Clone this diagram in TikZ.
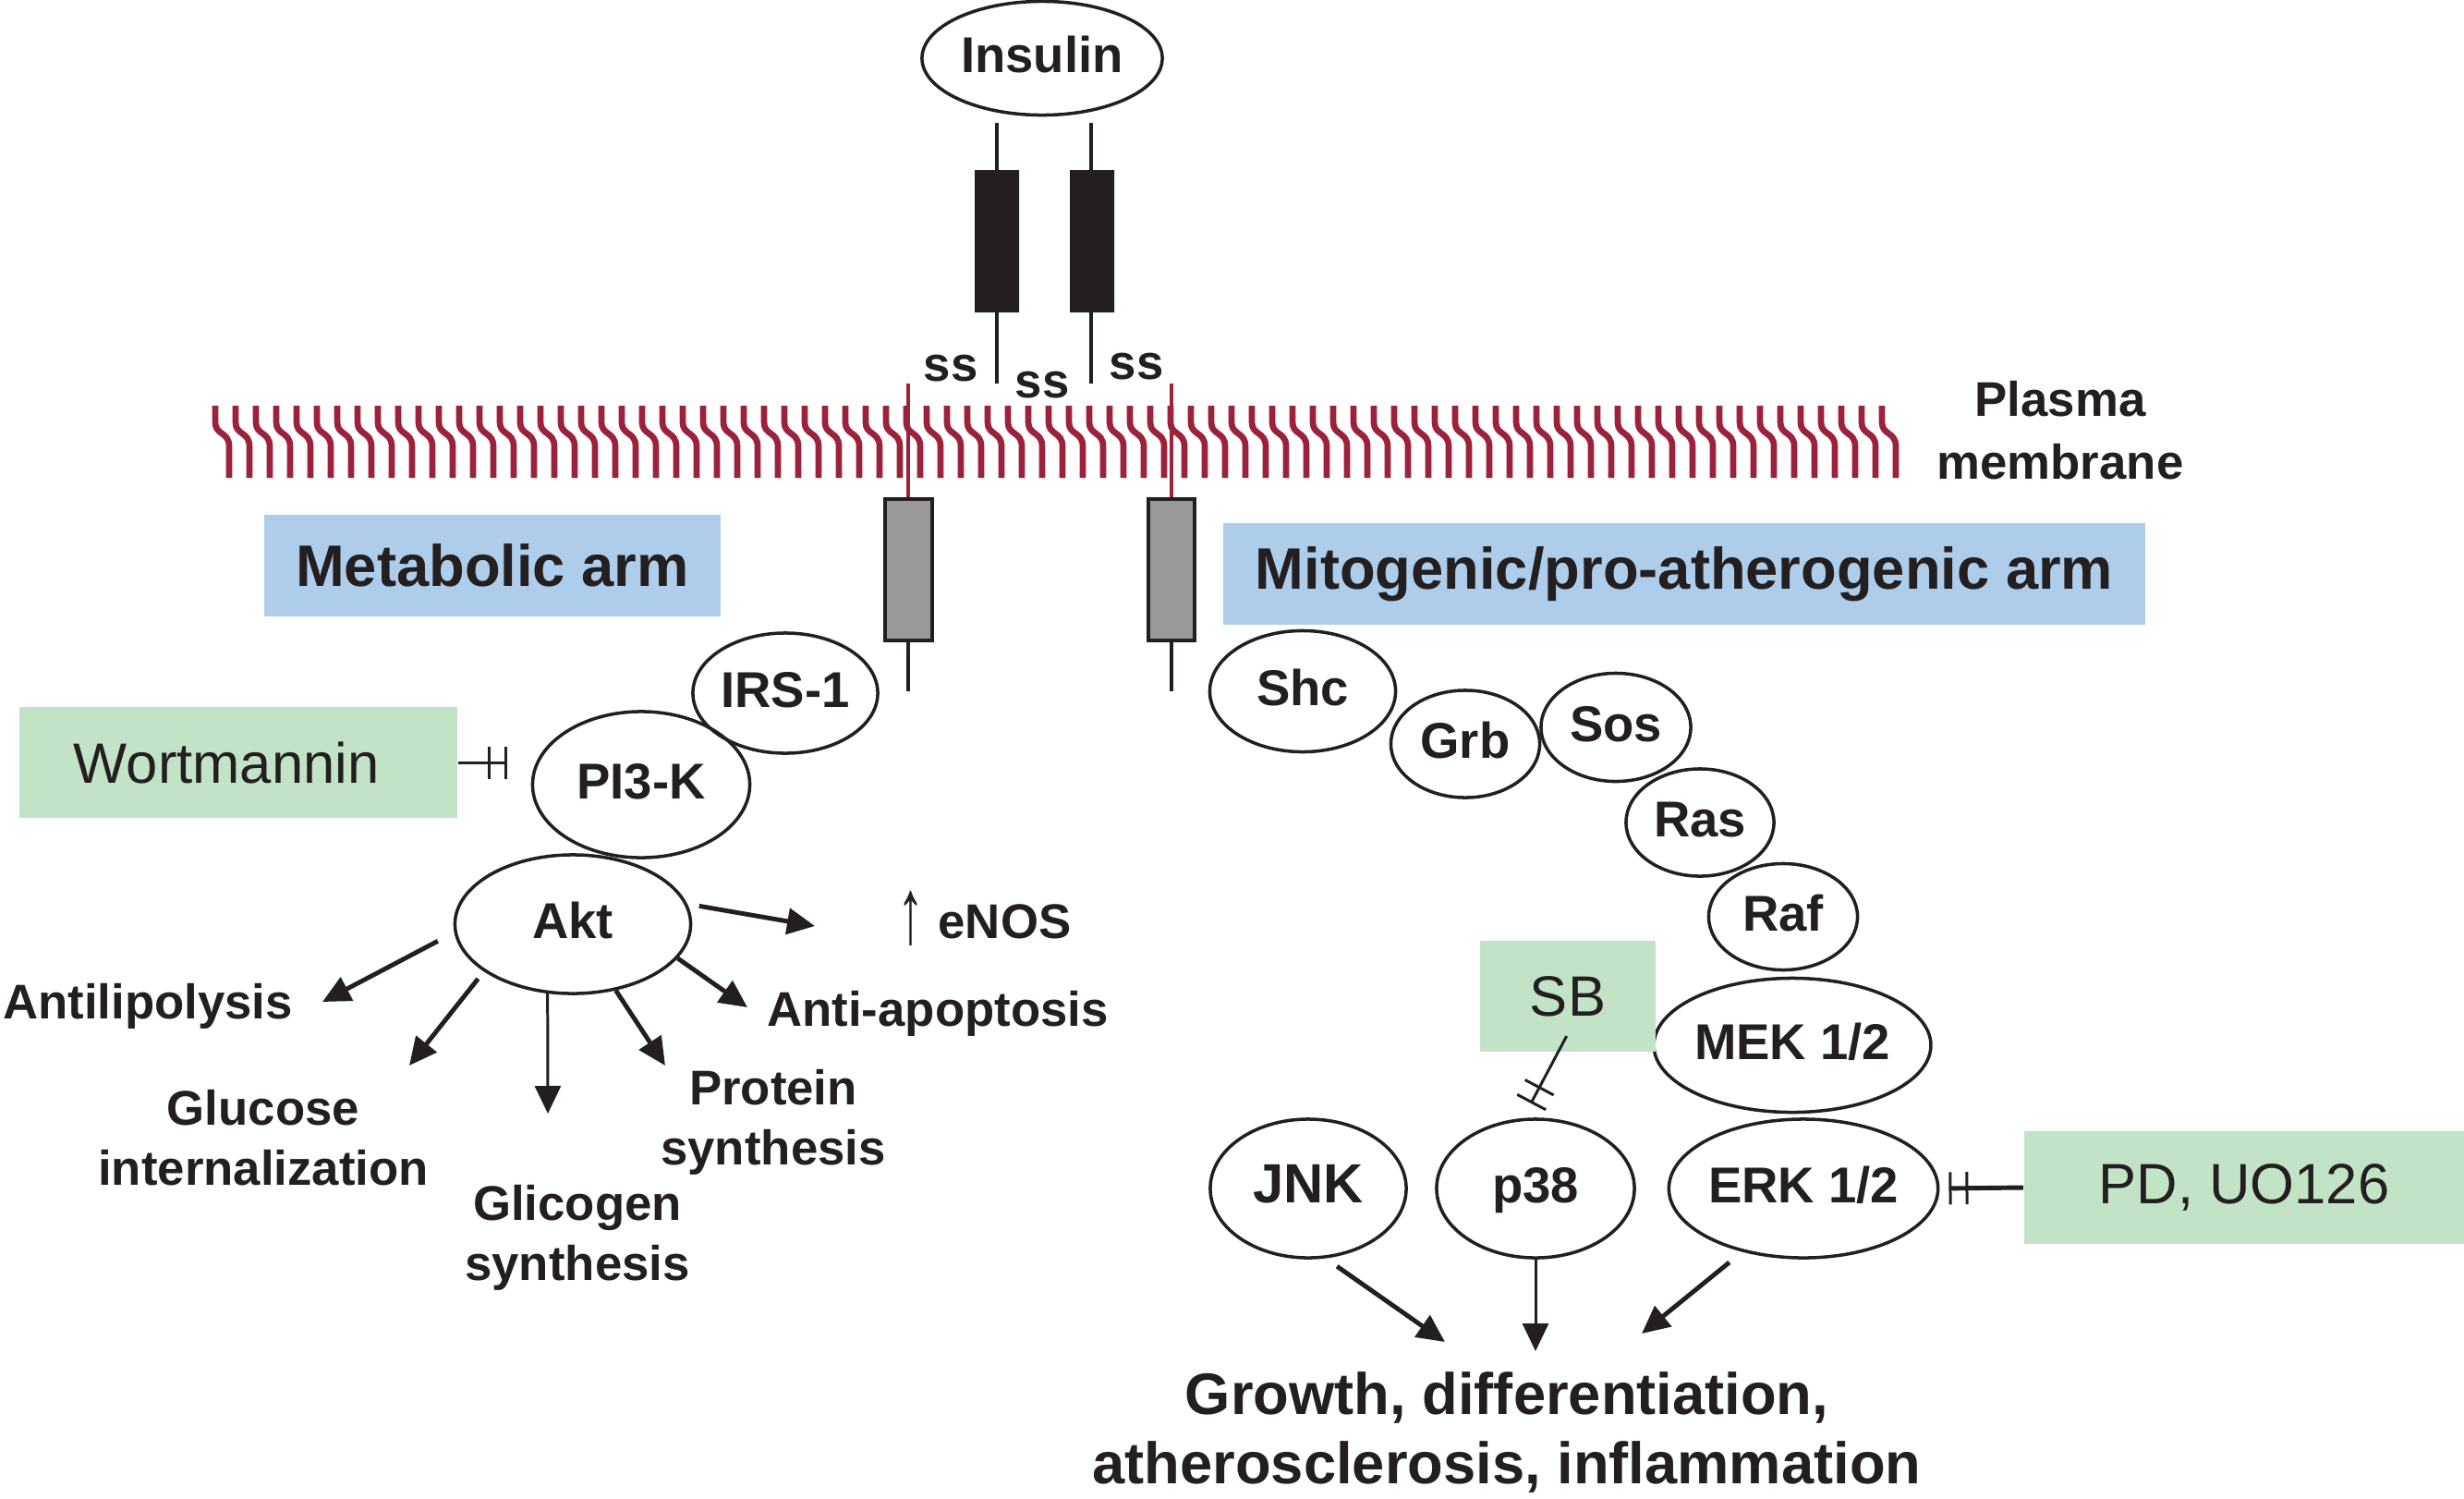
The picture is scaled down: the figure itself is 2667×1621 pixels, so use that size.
\documentclass[tikz,border=0pt]{standalone}
\usepackage{graphicx}
\usepackage{fontspec}
\setmainfont{Liberation Sans}
\usetikzlibrary{positioning,shapes.geometric,arrows.meta}
\definecolor{lipid}{RGB}{155,34,58}
\definecolor{armblue}{RGB}{174,205,235}
\definecolor{druggreen}{RGB}{195,227,198}
\definecolor{ink}{RGB}{35,31,32}
\tikzset{
  prot/.style={ellipse,draw=ink,line width=1pt,inner sep=0pt,text height=0.86em,text depth=0pt,
    font=\fontsize{15.5pt}{18pt}\selectfont\bfseries},
  armbox/.style={fill=armblue,inner sep=0pt,font=\fontsize{18pt}{21pt}\selectfont\bfseries},
  drugbox/.style={fill=druggreen,inner sep=0pt,font=\fontsize{17.5pt}{21pt}\selectfont},
  lbl/.style={align=center,inner sep=0pt,font=\fontsize{15pt}{18.3pt}\selectfont\bfseries},
  arr/.style={draw=ink,line width=1.4pt,-{Triangle[length=0.3cm,width=0.28cm]}},
  thinarr/.style={arr,line width=0.85pt},
  inhib/.style={draw=ink,line width=0.85pt,
    -{Bar[width=0.35cm,line width=0.85pt,sep=0.15cm]Bar[width=0.35cm,line width=0.85pt]}},
}
\begin{document}
\begin{tikzpicture}[x=0.01cm,y=-0.01cm,color=ink]
\useasboundingbox (0,0) rectangle (2667,1621);

% receptor outside the cell
\node[prot,minimum width=2.6cm,minimum height=1.23cm] (insulin) at (1128,63) {Insulin};
\draw[line width=1.1pt] (1079,133) -- (1079,415) (1181,133) -- (1181,415);
\fill (1055,184) rectangle (1103,338) (1158,184) rectangle (1206,338);
\node[lbl,anchor=base] (ssl) at (1029,412) {ss};
\node[lbl,anchor=base] (ssm) at (1128,430) {ss};
\node[lbl,anchor=base] (ssr) at (1230,410) {ss};

% plasma membrane
\foreach \i in {0,...,82} {
    \pgfmathsetmacro{\lx}{233+22*\i}
    \draw[lipid,line width=1.9pt] (\lx,439) -- (\lx,457) .. controls (\lx,471) and (\lx+15,467) .. (\lx+15,483) -- (\lx+15,517);
}
\node[lbl,anchor=base,font=\fontsize{15pt}{19.3pt}\selectfont\bfseries] (plasma) at (2230,518) {Plasma\\membrane};

% receptor inside the cell
\draw[lipid,line width=1.2pt] (983,415) -- (983,540) (1268,415) -- (1268,540);
\draw[line width=0.9pt,fill=black!40] (958,540) rectangle (1009,693) (1243,540) rectangle (1293,693);
\draw[line width=0.9pt] (983,693) -- (983,748) (1268,693) -- (1268,748);

\node[armbox,minimum width=4.94cm,minimum height=1.09cm] (metarm) at (533,612) {Metabolic arm};
\node[armbox,minimum width=9.97cm,minimum height=1.10cm] (mitarm) at (1823,621) {Mitogenic/pro-atherogenic arm};

% metabolic arm
\node[prot,minimum width=2.0cm,minimum height=1.3cm] (irs) at (850,750) {IRS-1};
\node[prot,minimum width=2.35cm,minimum height=1.58cm] (pik) at (694,849) {PI3-K};
\node[prot,minimum width=2.55cm,minimum height=1.5cm] (akt) at (620,1000) {Akt};
\node[drugbox,minimum height=1.2cm,inner xsep=0.59cm,text width=3.56cm,align=left] (wort) at (258,825) {Wortmannin};
\draw[inhib,shorten >=0.26cm] (wort.east) -- (wort.east -| pik.west);

\node[lbl,anchor=base east] (enos) at (1160,1015) {{\mdseries\raisebox{-0.1em}{\scalebox{1.1}[1.9]{↑}}} eNOS};
\node[lbl,anchor=base] (antiapop) at (1015,1110) {Anti-apoptosis};
\node[lbl,anchor=base] (protein) at (837,1260) {Protein\\synthesis};
\node[lbl,anchor=base] (glicogen) at (625,1385) {Glicogen\\synthesis};
\node[lbl,anchor=base] (glucose) at (285,1282) {Glucose\\internalization};
\node[lbl,anchor=base] (antilip) at (160,1102) {Antilipolysis};

\coordinate (toenos) at (882,1002);
\coordinate (toapop) at (809,1090);
\coordinate (toprot) at (720,1153);
\coordinate (toglic) at (593,1205);
\coordinate (toglu) at (443,1153);
\coordinate (tolip) at (349,1084);
\draw[arr,shorten <=0.13cm] (akt.10) -- (toenos);
\draw[arr] (akt.-18) -- (toapop);
\draw[arr] (akt.-57) -- (toprot);
\draw[thinarr] (akt.-110) -- (toglic);
\draw[arr,shorten <=0.1cm] (akt.-152) -- (toglu);
\draw[arr,shorten <=0.2cm] (akt.-176) -- (tolip);

% mitogenic arm
\node[prot,minimum width=2.01cm,minimum height=1.31cm] (shc) at (1410,748) {Shc};
\node[prot,minimum width=1.61cm,minimum height=1.16cm] (grb) at (1586,805) {Grb};
\node[prot,minimum width=1.62cm,minimum height=1.17cm] (sos) at (1749,787) {Sos};
\node[prot,minimum width=1.6cm,minimum height=1.16cm] (ras) at (1840,890) {Ras};
\node[prot,minimum width=1.61cm,minimum height=1.15cm] (raf) at (1930,992) {Raf};
\node[prot,minimum width=2.85cm,minimum height=1.45cm] (mek) at (1940,1131) {MEK 1/2};
\node[prot,minimum width=2.81cm,minimum height=1.5cm] (erk) at (1952,1286) {ERK 1/2};
\node[prot,minimum width=2.14cm,minimum height=1.5cm] (pxiii) at (1662,1286) {p38};
\node[prot,minimum width=2.12cm,minimum height=1.5cm,font=\fontsize{17pt}{20pt}\selectfont\bfseries] (jnk) at (1416,1286) {JNK};

\node[drugbox,minimum width=1.89cm,minimum height=1.2cm] (sb) at (1697,1078) {SB};
\node[drugbox,minimum width=4.76cm,minimum height=1.21cm] (pd) at (2429,1285) {PD, UO126};
\draw[inhib,shorten <=-0.2cm,shorten >=0.18cm] (sb.-100) -- (pxiii.100);
\draw[inhib,line width=1.4pt,shorten >=0.1cm] (pd.west) -- (erk.east);

\node[lbl,anchor=base,font=\fontsize{18pt}{21.3pt}\selectfont\bfseries] (growth) at (1631,1605) {Growth, differentiation,\\atherosclerosis, inflammation};
\coordinate (tojnk) at (1564,1452);
\coordinate (top38) at (1662,1462);
\coordinate (toerk) at (1777,1443);
\draw[arr,shorten <=0.15cm] (jnk.-76) -- (tojnk);
\draw[thinarr] (pxiii.south) -- (top38);
\draw[arr,shorten <=0.18cm] (erk.-134) -- (toerk);
\end{tikzpicture}
\end{document}
